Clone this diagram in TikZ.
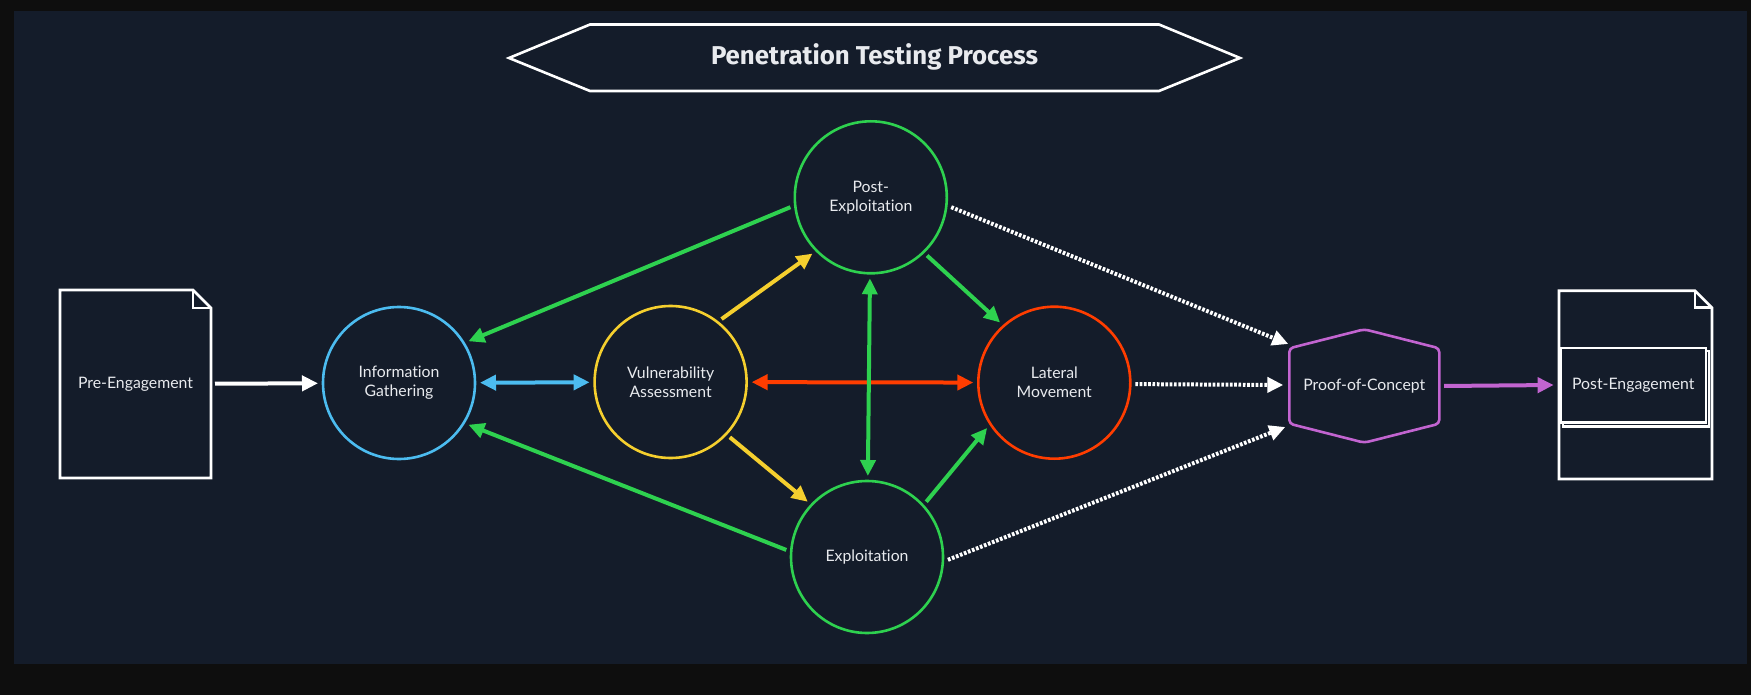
\documentclass[tikz,border=0pt]{standalone}
\usepackage{fontspec}
\setmainfont{Lato}[Ligatures=NoCommon]
\newfontfamily\titlefont{Fira Sans}
\usetikzlibrary{arrows.meta,calc}

\definecolor{outerbg}{HTML}{0E0E0E}
\definecolor{panel}{HTML}{141C2A}
\definecolor{igblue}{HTML}{4CBCF0}
\definecolor{vayellow}{HTML}{F5CF2E}
\definecolor{exgreen}{HTML}{2ED14F}
\definecolor{lmred}{HTML}{FF3D00}
\definecolor{pocpurple}{HTML}{C264D0}
\definecolor{txt}{HTML}{E8EAEE}

\begin{document}
\begin{tikzpicture}[x=1pt,y=-1pt,
  phase/.style={circle, draw, line width=2.6pt, minimum size=152pt, inner sep=0pt,
    outer sep=5pt, text=txt, font=\fontsize{15.8}{19}\selectfont, align=center},
  caption/.style={text=txt, font=\fontsize{15.8}{19}\selectfont, align=center, inner sep=0pt},
  docline/.style={draw=white, line width=2.6pt, line join=miter},
  tip/.tip={Triangle[length=16pt,width=15pt]},
  link/.style={line width=4pt, -tip},
  twoway/.style={line width=4pt, tip-tip},
  dots/.style={link, white, dash pattern=on 2.7pt off 1.6pt},
]

% canvas
\fill[outerbg] (0,0) rectangle (1751,695);
\fill[panel] (14,11) rectangle (1747,664);
\useasboundingbox (0,0) rectangle (1751,695);

% title banner
\draw[white, line width=2.6pt, line join=miter]
  (509,58) -- (590,24.5) -- (1159,24.5) -- (1240,58) -- (1159,91) -- (590,91) -- cycle;
\node[text=txt, font=\titlefont\bfseries\fontsize{25.8}{30}\selectfont] (title)
  at (874.5,57) {Penetration Testing Process};

% pre-engagement document
\draw[docline] (60,290) -- (193,290) -- (211,308) -- (211,478) -- (60,478) -- cycle;
\draw[docline] (193,290) -- (193,308) -- (211,308);
\node[caption, minimum width=151pt, minimum height=188pt, outer sep=4pt] (pre)
  at (135.5,384) {Pre-Engagement};

% phases
\node[phase, draw=igblue]   (ig) at (399,383)     {Information\\Gathering};
\node[phase, draw=vayellow] (va) at (670.6,382)   {Vulnerability\\Assessment};
\node[phase, draw=exgreen]  (pe) at (870.8,197.3) {Post-\\Exploitation};
\node[phase, draw=exgreen]  (ex) at (867,557)     {Exploitation};
\node[phase, draw=lmred]    (lm) at (1054.3,382.7){Lateral\\Movement};

% proof-of-concept hexagon
\node[caption, minimum width=150pt, minimum height=113.4pt, outer sep=4.7pt] (poc)
  at (1364.3,386) {Proof-of-Concept};
\draw[pocpurple, line width=2.6pt, rounded corners=4pt]
  ($(poc.center)+(0,-56.7)$) -- ($(poc.center)+(75,-37.7)$) -- ($(poc.center)+(75,37.7)$)
  -- ($(poc.center)+(0,56.7)$) -- ($(poc.center)+(-75,37.7)$) -- ($(poc.center)+(-75,-37.7)$) -- cycle;
\coordinate (pocA) at ($(poc.center)+(-76,-42)$);
\coordinate (pocB) at ($(poc.center)+(-81,-1)$);
\coordinate (pocC) at ($(poc.center)+(-79,41)$);

% post-engagement multi-document
\draw[docline] (1559,290.7) -- (1695,290.7) -- (1712,307.7) -- (1712,479) -- (1559,479) -- cycle;
\draw[docline] (1695,290.7) -- (1695,307.7) -- (1712,307.7);
\draw[docline, fill=panel] (1563,351) rectangle (1709,426.7);
\node[caption, draw=white, fill=panel, line width=2.4pt, minimum width=145.3pt,
  minimum height=74.6pt, outer sep=7pt] (post) at (1633.3,385) {Post-Engagement};

% connectors
\draw[link, white] (pre) -- (ig);
\draw[twoway, igblue] (ig) -- (va);
\draw[link, exgreen] (pe.187.7) -- (ig.31.6);
\draw[link, exgreen] (ex.175.4) -- (ig.329.6);
\draw[link, vayellow] (va.51) -- (pe.224.1);
\draw[link, vayellow] (va.317.8) -- (ex.137.6);
\draw[twoway, lmred] (va) -- (lm);
\draw[twoway, exgreen] (pe) -- (ex);
\draw[link, exgreen] (pe.314.1) -- (lm.132.6);
\draw[link, exgreen] (ex.43.1) -- (lm.214.6);
\draw[dots] (pe.-7.2) -- (pocA);
\draw[dots] (lm.-1) -- (pocB);
\draw[dots] (ex.-2) -- (pocC);
\draw[link, pocpurple] (poc.east) -- (post.west);

\end{tikzpicture}
\end{document}
